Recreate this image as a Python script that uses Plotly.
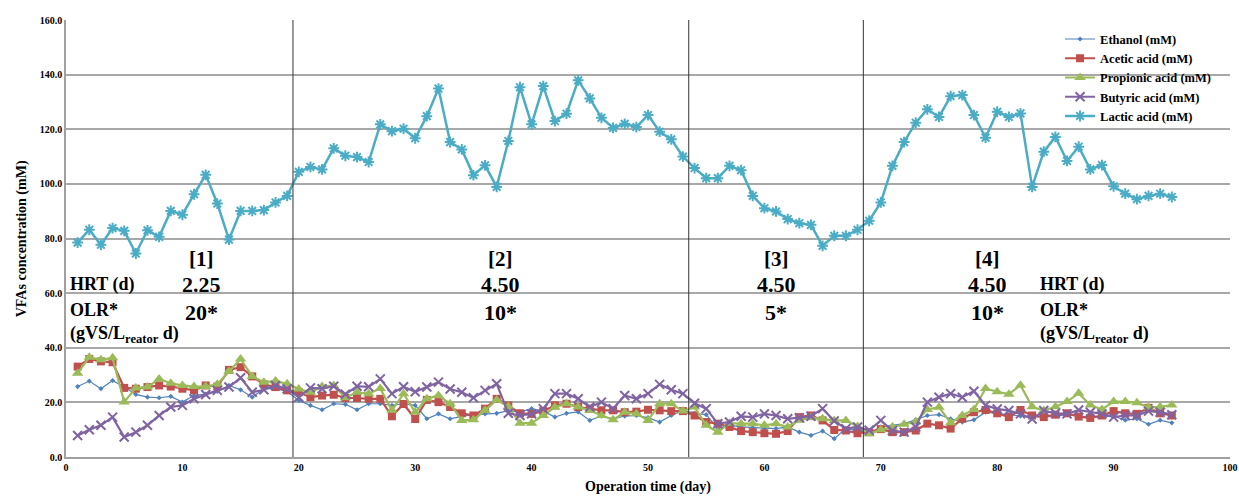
import plotly.graph_objects as go

# Operation days 1..95
days = list(range(1, 96))

ethanol = [25.8, 27.8, 25.0, 28.0, 25.6, 22.9, 21.9, 21.7, 22.2, 20.1,
           22.5, 23.0, 24.0, 26.2, 24.6, 21.9, 25.0, 25.0, 24.0,
           20.7, 18.9, 17.3, 19.5, 19.3, 17.3, 19.5, 19.5, 18.9, 19.5, 18.9,
           14.0, 15.8, 14.0, 14.9, 15.5, 15.8, 16.0, 17.0, 16.5, 17.7,
           16.8, 14.6, 16.0, 16.5, 13.4, 15.0, 14.0, 15.0, 15.2, 14.4,
           12.8, 15.2, 17.1, 16.0, 15.5, 10.4, 11.6, 11.0, 10.8, 10.5,
           10.4, 11.0, 9.1, 7.9, 9.5, 6.7, 10.4, 9.7, 8.7,
           11.0, 11.6, 12.2, 13.6, 15.2, 15.5, 14.0, 12.8, 13.6, 16.4,
           16.0, 15.5, 15.0, 14.5, 15.0, 15.0, 15.5, 15.0, 14.5, 14.8,
           15.0, 13.5, 14.0, 12.0, 13.5, 12.5]

acetic = [33.1, 35.9, 35.0, 34.7, 25.3, 25.0, 25.6, 26.2, 25.8, 25.0,
          24.4, 26.2, 25.8, 31.9, 32.9, 29.5, 26.6, 25.6, 24.4,
          23.7, 21.9, 22.5, 22.8, 21.6, 21.6, 21.3, 21.3, 14.9, 19.4, 13.9,
          20.9, 20.1, 18.3, 16.0, 15.2, 17.7, 21.3, 18.9, 16.0, 15.8,
          16.8, 18.9, 19.5, 18.3, 17.7, 17.1, 17.1, 16.4, 16.6, 17.3,
          17.1, 16.8, 16.8, 15.2, 12.8, 12.2, 11.0, 9.5, 9.1, 8.7,
          8.5, 9.5, 14.6, 15.2, 13.4, 9.9, 9.7, 8.7, 9.1,
          10.2, 9.1, 9.1, 9.7, 12.2, 11.6, 10.4, 14.0, 16.4, 17.2,
          16.0, 14.6, 17.2, 15.2, 14.6, 15.5, 16.0, 14.8, 14.3, 15.2,
          16.8, 16.0, 15.8, 18.0, 16.0, 15.2]

propionic = [30.7, 36.5, 35.6, 36.3, 20.1, 25.3, 25.6, 28.6, 27.0, 26.2,
             25.8, 25.8, 26.6, 31.4, 35.9, 29.5, 27.4, 27.8, 26.8,
             24.9, 23.7, 25.8, 26.2, 21.7, 23.7, 23.2, 25.1, 17.1, 23.2, 16.4,
             21.3, 22.5, 19.5, 13.4, 13.6, 17.1, 20.9, 18.5, 12.4, 12.4,
             15.2, 18.2, 19.5, 18.3, 17.1, 15.2, 13.6, 16.4, 15.8, 13.4,
             19.5, 19.5, 16.8, 18.3, 11.6, 9.1, 12.4, 12.2, 12.2, 11.6,
             12.2, 11.0, 13.5, 14.4, 14.0, 13.4, 13.4, 11.2, 8.5,
             10.0, 11.0, 12.0, 12.9, 17.4, 18.2, 12.5, 15.2, 17.4, 25.1,
             23.9, 23.0, 26.3, 18.4, 17.0, 18.4, 20.3, 23.3, 19.0, 17.4,
             20.3, 20.3, 19.9, 18.2, 18.4, 19.0]

butyric = [7.9, 10.0, 11.6, 14.6, 7.3, 9.1, 11.6, 15.2, 18.3, 18.9,
           21.3, 22.9, 24.4, 25.6, 29.0, 23.7, 24.6, 26.2, 25.0,
           21.9, 25.3, 25.0, 25.9, 23.0, 25.9, 25.7, 28.6, 23.2, 25.7, 23.9,
           25.6, 27.4, 24.9, 23.7, 21.7, 24.4, 26.8, 16.0, 15.2, 15.8,
           17.7, 23.2, 23.2, 21.3, 18.3, 20.1, 17.7, 22.5, 21.3, 23.2,
           26.6, 24.6, 23.2, 19.7, 17.7, 12.2, 12.8, 14.9, 14.6, 15.8,
           15.2, 14.0, 14.4, 14.9, 17.7, 13.2, 10.4, 11.0, 9.8,
           13.4, 9.7, 9.1, 11.0, 20.1, 21.9, 23.2, 21.9, 24.1, 18.9,
           17.6, 17.0, 15.8, 13.9, 17.0, 16.0, 15.8, 17.2, 16.4, 15.8,
           14.6, 15.2, 15.2, 16.8, 16.4, 15.5]

lactic = [78.5, 83.2, 77.7, 83.8, 82.8, 74.5, 83.0, 80.6, 90.1, 88.7,
          96.2, 103.3, 92.8, 79.6, 90.1, 90.1, 90.4, 93.2, 95.6,
          104.4, 106.2, 105.3, 113.0, 110.3, 109.8, 108.0, 121.8, 119.3, 120.2, 116.7,
          124.8, 134.9, 115.3, 112.6, 103.2, 106.8, 98.9, 115.7, 135.4, 121.8,
          135.8, 123.0, 125.7, 137.9, 131.3, 124.2, 120.5, 122.0, 120.8, 125.2,
          119.1, 116.3, 110.0, 105.8, 102.1, 102.1, 106.6, 105.0, 95.6, 91.1,
          89.9, 87.1, 85.6, 85.0, 77.3, 81.0, 81.0, 83.2, 86.5,
          93.2, 106.6, 115.3, 122.4, 127.3, 124.5, 132.1, 132.5, 125.2, 116.9,
          126.4, 124.5, 125.8, 98.9, 111.8, 117.2, 108.4, 113.6, 105.3, 106.9,
          99.1, 96.4, 94.4, 95.6, 96.4, 95.2]

# Boundaries between operating phases (day)
phase_bounds = [19.5, 53.5, 68.5]
phase_labels = ["[1]", "[2]", "[3]", "[4]"]
phase_centers = [11.6, 37.3, 61.0, 79.2]
hrt_values = ["2.25", "4.50", "4.50", "4.50"]
olr_values = ["20*", "10*", "5*", "10*"]

SERIF = "Liberation Serif"

series = [
    ("Ethanol (mM)", ethanol, "#4F81BD", dict(symbol="diamond", size=4), 1.2),
    ("Acetic acid (mM)", acetic, "#C0504D", dict(symbol="square", size=8), 2.2),
    ("Propionic acid (mM)", propionic, "#9BBB59", dict(symbol="triangle-up", size=10), 2.2),
    ("Butyric acid (mM)", butyric, "#8064A2",
     dict(symbol="x-thin-open", size=9, line=dict(width=2, color="#8064A2")), 2.2),
    ("Lactic acid (mM)", lactic, "#4BACC6",
     dict(symbol="asterisk-open", size=9, line=dict(width=2, color="#4BACC6")), 2.5),
]

fig = go.Figure()
for name, vals, color, marker, lw in series:
    m = dict(marker)
    m["color"] = color
    fig.add_trace(go.Scatter(x=days, y=vals, name=name, mode="lines+markers",
                             line=dict(color=color, width=lw), marker=m))

for b in phase_bounds:
    fig.add_shape(type="line", x0=b, x1=b, y0=0, y1=160, xref="x", yref="y",
                  line=dict(color="#333333", width=1))

for lab, cx, hrt, olr in zip(phase_labels, phase_centers, hrt_values, olr_values):
    fig.add_annotation(x=cx, y=72.5, text=lab, showarrow=False,
                       font=dict(family=SERIF, size=21, color="black", weight="bold"))
    fig.add_annotation(x=cx, y=63.0, text=hrt, showarrow=False,
                       font=dict(family=SERIF, size=22, color="black", weight="bold"))
    fig.add_annotation(x=cx, y=53.0, text=olr, showarrow=False,
                       font=dict(family=SERIF, size=22, color="black", weight="bold"))

for x0 in [0.2, 83.5]:
    fig.add_annotation(x=x0, y=63.0, xanchor="left", text="HRT (d)", showarrow=False,
                       font=dict(family=SERIF, size=18, color="black", weight="bold"))
    fig.add_annotation(x=x0, y=54.0, xanchor="left", text="OLR*", showarrow=False,
                       font=dict(family=SERIF, size=18, color="black", weight="bold"))
    fig.add_annotation(x=x0, y=45.0, xanchor="left",
                       text="(gVS/L<sub>reator</sub> d)", showarrow=False,
                       font=dict(family=SERIF, size=18, color="black", weight="bold"))

# Axis titles placed in paper coordinates so the plot area keeps fixed margins
fig.add_annotation(xref="paper", yref="paper", x=0.5, y=-0.069, yanchor="middle",
                   text="Operation time (day)", showarrow=False,
                   font=dict(family=SERIF, size=14, color="black", weight="bold"))
fig.add_annotation(xref="paper", yref="paper", x=-0.038, y=0.5, xanchor="center",
                   textangle=-90, text="VFAs concentration (mM)", showarrow=False,
                   font=dict(family=SERIF, size=14, color="black", weight="bold"))

fig.update_layout(
    width=1239, height=497,
    margin=dict(l=66, r=9, t=20, b=40),
    paper_bgcolor="white", plot_bgcolor="white",
    font=dict(family=SERIF, color="black"),
    legend=dict(x=0.854, y=0.99, xanchor="left", yanchor="top",
                bgcolor="rgba(0,0,0,0)",
                font=dict(family=SERIF, size=12.5, color="black", weight="bold"),
                tracegroupgap=0, itemwidth=30),
    showlegend=True,
)
fig.update_xaxes(range=[0, 100], dtick=10, showgrid=False, zeroline=False,
                 showline=True, linecolor="#a0a0a0", linewidth=1.5, ticks="",
                 automargin=False,
                 tickfont=dict(family=SERIF, size=10, color="black", weight="bold"))
fig.update_yaxes(range=[0, 160], dtick=20, tickformat=".1f", showgrid=True,
                 gridcolor="#a8a8a8", gridwidth=1.5, zeroline=False,
                 showline=True, linecolor="#a0a0a0", linewidth=1.5, ticks="",
                 automargin=False,
                 tickfont=dict(family=SERIF, size=10, color="black", weight="bold"))

fig.write_html("out.html")
